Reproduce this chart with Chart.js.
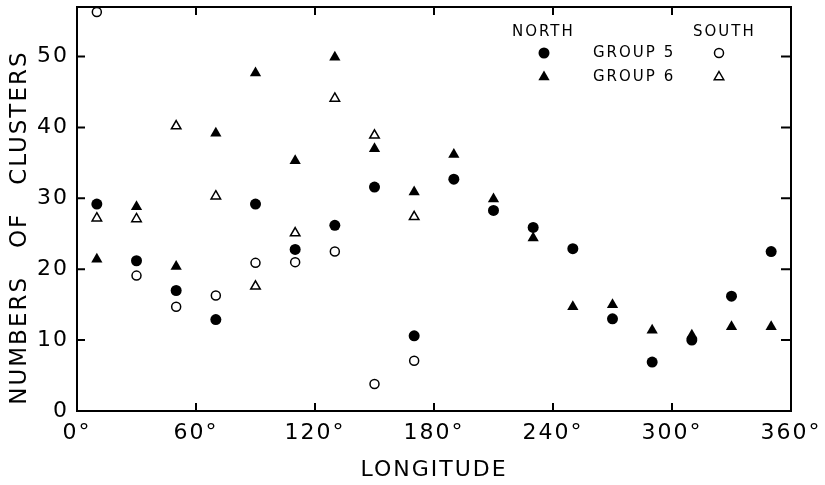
<!DOCTYPE html>
<html>
<head>
<meta charset="utf-8">
<script src="https://cdn.jsdelivr.net/npm/chart.js@4/dist/chart.umd.min.js"></script>
<style>
	html, body { margin: 0; padding: 0; background: #fff; }
	#wrap { width: 825px; height: 485px; position: relative; }
</style>
</head>
<body>
<div id="wrap"><canvas id="clusterChart"></canvas></div>
<script>
"use strict";

// longitude bins (degrees)
const longitudes = [10, 30, 50, 70, 90, 110, 130, 150, 170, 190, 210, 230, 250, 270, 290, 310, 330, 350];
const southLongitudes = [10, 30, 50, 70, 90, 110, 130, 150, 170];

// numbers of clusters
const north5 = [29.2, 21.2, 17.0, 12.9, 29.2, 22.8, 26.2, 31.6, 10.6, 32.7, 28.3, 25.9, 22.9, 13.0, 6.9, 10.0, 16.2, 22.5];
const north6 = [21.4, 28.8, 20.4, 39.2, 47.7, 35.3, 49.9, 37.0, 30.9, 36.2, 29.9, 24.4, 14.7, 15.0, 11.4, 10.7, 11.9, 11.9];
const south5 = [56.3, 19.1, 14.7, 16.3, 20.9, 21.0, 22.5, 3.8, 7.1];
const south6 = [27.2, 27.1, 40.2, 30.3, 17.6, 25.1, 44.1, 38.9, 27.4];

const xTicks = [0, 60, 120, 180, 240, 300, 360];
const yTicks = [0, 10, 20, 30, 40, 50];

const FONT = "'DejaVu Sans', sans-serif";

function toPoints(xs, ys) {
	return xs.map((x, i) => ({ x: x, y: ys[i] }));
}

// white page, letter spacing for the lettering
const backdrop = {
	id: "backdrop",
	beforeDraw(chart) {
		let ctx = chart.ctx;
		ctx.save();
		ctx.fillStyle = "#fff";
		ctx.fillRect(0, 0, chart.width, chart.height);
		ctx.restore();
		ctx.letterSpacing = "2px";
	},
};

// box round the plot and inward tick marks
const frame = {
	id: "frame",
	afterDatasetsDraw(chart) {
		let ctx = chart.ctx;
		let a = chart.chartArea;
		let xs = chart.scales.x;
		let ys = chart.scales.y;
		ctx.save();
		ctx.strokeStyle = "#000";
		ctx.lineWidth = 2;
		ctx.strokeRect(a.left, a.top, a.right - a.left, a.bottom - a.top);
		ctx.beginPath();
		for (let v of xTicks) {
			let px = xs.getPixelForValue(v);
			ctx.moveTo(px, a.bottom);
			ctx.lineTo(px, a.bottom - 8);
			ctx.moveTo(px, a.top);
			ctx.lineTo(px, a.top + 8);
		}
		for (let v of yTicks) {
			let py = ys.getPixelForValue(v);
			ctx.moveTo(a.left, py);
			ctx.lineTo(a.left + 8, py);
			ctx.moveTo(a.right, py);
			ctx.lineTo(a.right - 10, py);
		}
		ctx.stroke();
		ctx.restore();
	},
};

function marker(ctx, kind, filled, x, y) {
	ctx.beginPath();
	if (kind == "circle") {
		ctx.arc(x, y, filled ? 5.5 : 4.5, 0, Math.PI * 2);
	} else {
		let r = filled ? 6.5 : 5.5;
		ctx.moveTo(x, y - r);
		ctx.lineTo(x + r * 0.866, y + r * 0.5);
		ctx.lineTo(x - r * 0.866, y + r * 0.5);
		ctx.closePath();
	}
	if (filled) {
		ctx.fillStyle = "#000";
		ctx.fill();
	} else {
		ctx.fillStyle = "#fff";
		ctx.fill();
		ctx.lineWidth = 1.5;
		ctx.strokeStyle = "#000";
		ctx.stroke();
	}
}

// key in the upper right corner
const key = {
	id: "key",
	afterDraw(chart) {
		let ctx = chart.ctx;
		ctx.save();
		ctx.font = "15px " + FONT;
		ctx.letterSpacing = "2px";
		ctx.fillStyle = "#000";
		ctx.textBaseline = "middle";
		ctx.textAlign = "left";
		ctx.fillText("NORTH", 512, 32);
		ctx.fillText("SOUTH", 693, 32);
		ctx.fillText("GROUP 5", 593, 53);
		ctx.fillText("GROUP 6", 593, 77);
		marker(ctx, "circle", true, 544, 53);
		marker(ctx, "triangle", true, 544, 77);
		marker(ctx, "circle", false, 719, 53);
		marker(ctx, "triangle", false, 719, 77);
		ctx.restore();
	},
};

let canvas = document.getElementById("clusterChart");
let chart = new Chart(canvas.getContext("2d"), {
	type: "scatter",
	data: {
		datasets: [
			{
				label: "North group 6",
				data: toPoints(longitudes, north6),
				pointStyle: "triangle",
				pointRadius: 6.5,
				backgroundColor: "#000",
				borderColor: "#000",
				borderWidth: 0,
			},
			{
				label: "North group 5",
				data: toPoints(longitudes, north5),
				pointStyle: "circle",
				pointRadius: 5.5,
				backgroundColor: "#000",
				borderColor: "#000",
				borderWidth: 0,
			},
			{
				label: "South group 6",
				data: toPoints(southLongitudes, south6),
				pointStyle: "triangle",
				pointRadius: 5.5,
				backgroundColor: "#fff",
				borderColor: "#000",
				borderWidth: 1.5,
			},
			{
				label: "South group 5",
				data: toPoints(southLongitudes, south5),
				pointStyle: "circle",
				pointRadius: 4.5,
				backgroundColor: "#fff",
				borderColor: "#000",
				borderWidth: 1.5,
			},
		],
	},
	options: {
		responsive: true,
		maintainAspectRatio: false,
		animation: false,
		layout: {
			padding: { left: 0, top: 6, right: 34, bottom: 0 },
		},
		plugins: {
			legend: { display: false },
			tooltip: { enabled: false },
		},
		scales: {
			x: {
				type: "linear",
				min: 0,
				max: 360,
				afterFit: (scale) => {
					scale.height = 74;
					scale.paddingLeft = 0;
					scale.paddingRight = 0;
				},
				grid: { display: false, drawTicks: false },
				border: { display: false },
				ticks: {
					stepSize: 60,
					padding: 9,
					color: "#000",
					font: { family: FONT, size: 22 },
					maxRotation: 0,
					callback: (v) => v + "°",
				},
				title: {
					display: true,
					text: "LONGITUDE",
					color: "#000",
					font: { family: FONT, size: 22 },
					padding: { top: 0, bottom: 2 },
				},
			},
			y: {
				min: 0,
				max: 57,
				afterFit: (scale) => {
					scale.width = 77;
					scale.paddingTop = 0;
					scale.paddingBottom = 0;
				},
				grid: { display: false, drawTicks: false },
				border: { display: false },
				ticks: {
					stepSize: 10,
					includeBounds: false,
					padding: 8,
					color: "#000",
					font: { family: FONT, size: 22 },
				},
				title: {
					display: true,
					// trailing spaces shift the lettering down like the original
					text: "NUMBERS   OF   CLUSTERS    ",
					color: "#000",
					font: { family: FONT, size: 23 },
					padding: { top: 6, bottom: 0 },
				},
			},
		},
	},
	plugins: [backdrop, frame, key],
});
</script>
</body>
</html>
